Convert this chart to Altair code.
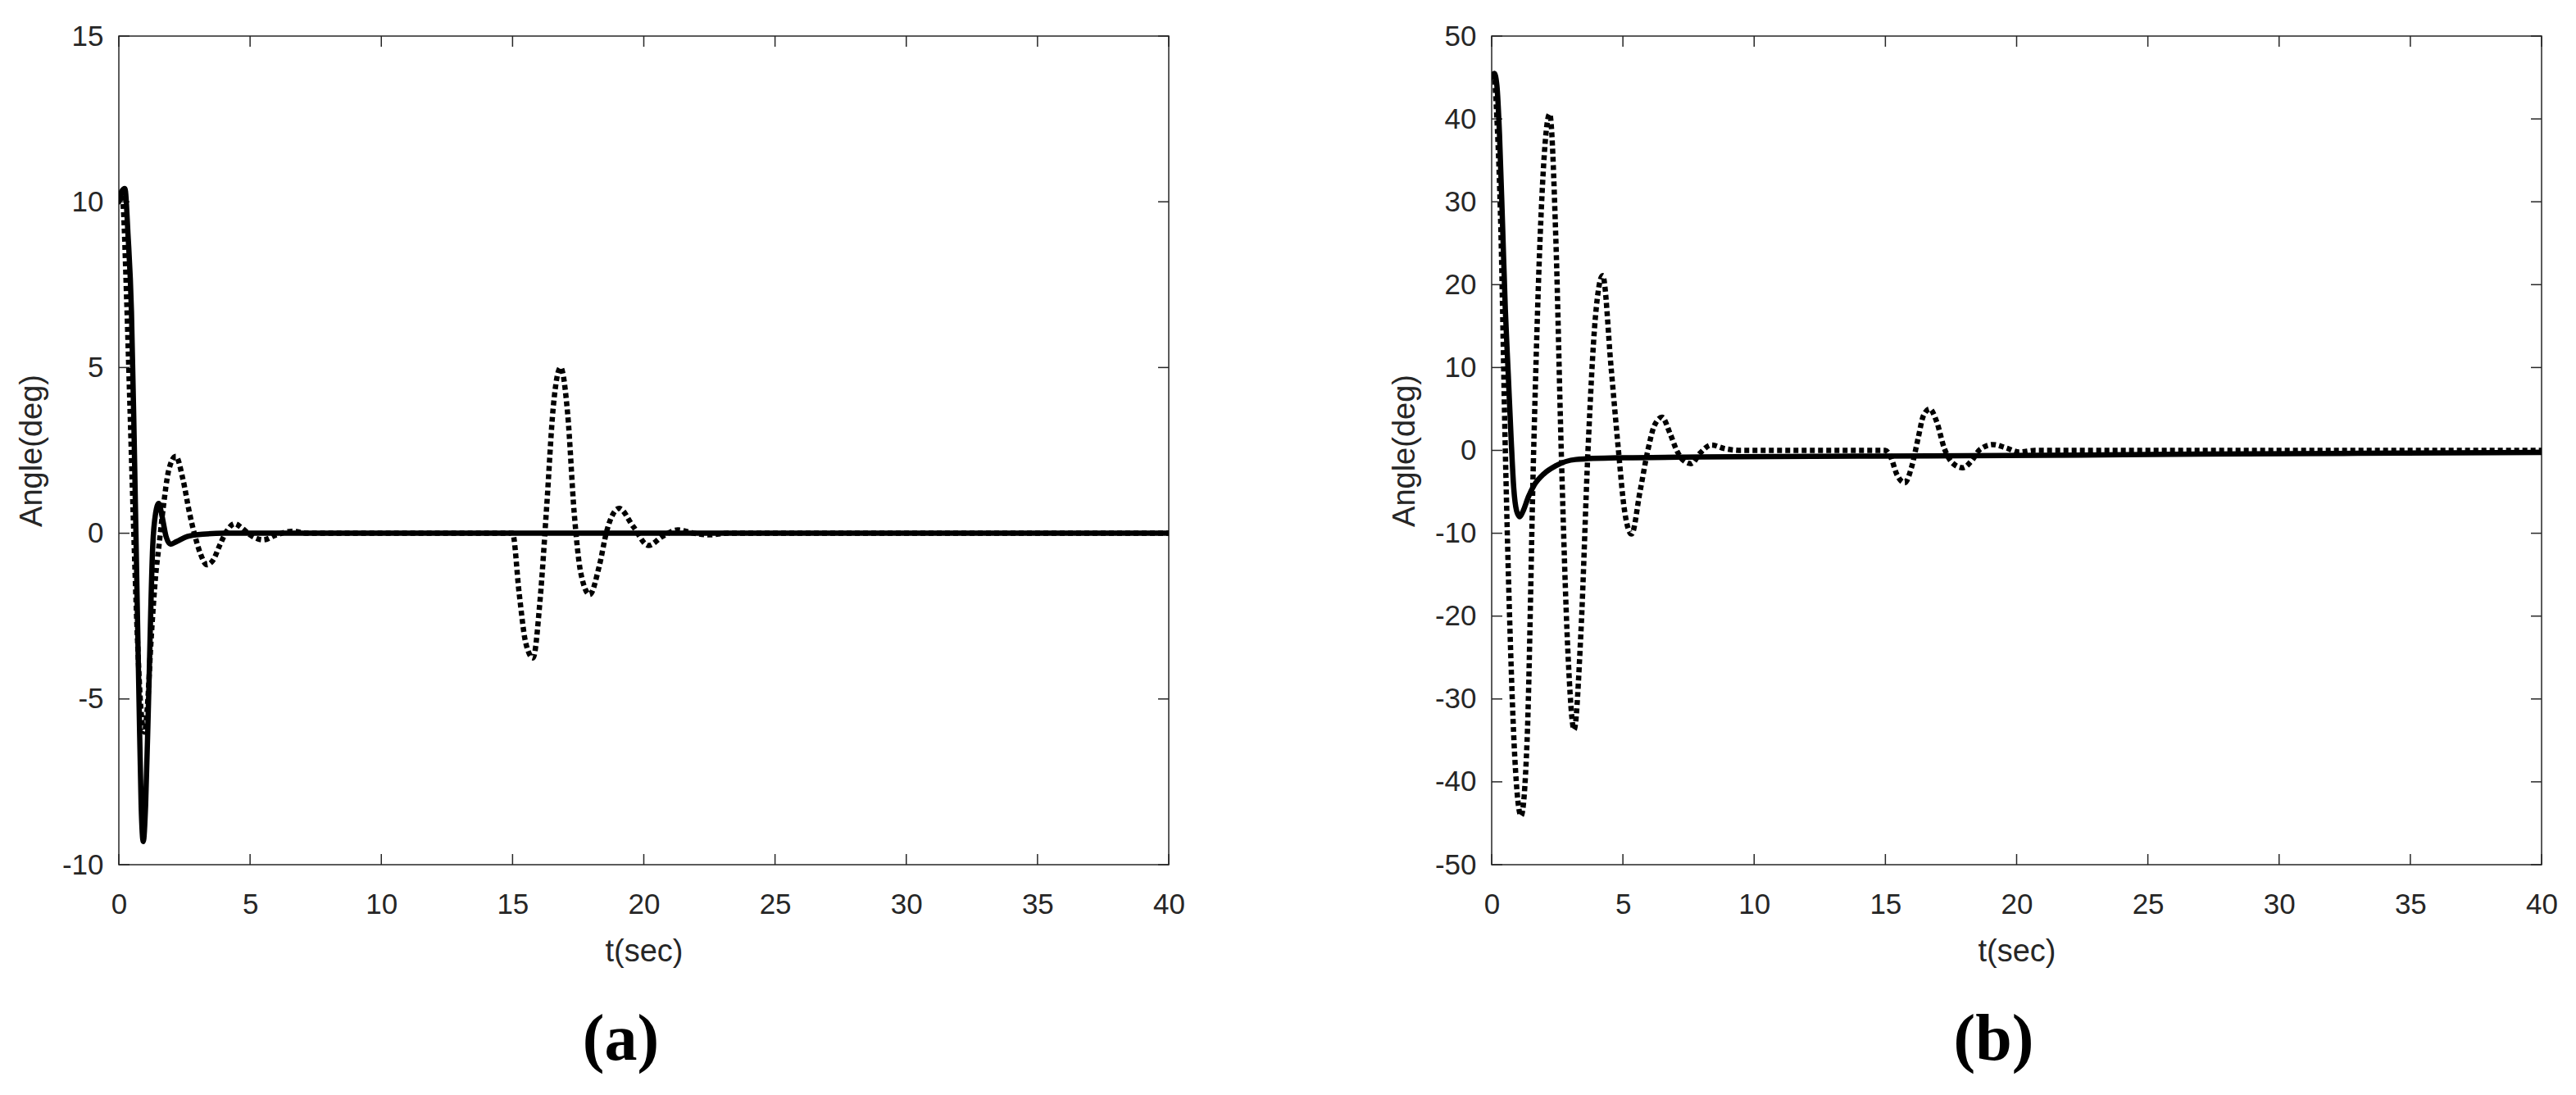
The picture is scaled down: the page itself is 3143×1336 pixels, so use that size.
import altair as alt
import pandas as pd

# ---------------- data ----------------
x_ticks = [0, 5, 10, 15, 20, 25, 30, 35, 40]
ya_ticks = [-10, -5, 0, 5, 10, 15]
yb_ticks = [-50, -40, -30, -20, -10, 0, 10, 20, 30, 40, 50]

# panel (a) solid
ta_s = [0, 0.1, 0.23, 0.35, 0.48, 0.58, 0.66, 0.77, 0.85, 0.93, 1.02, 1.13, 1.29, 1.40,
        1.52, 1.65, 1.80, 1.97, 2.2, 2.6, 3.2, 4.0, 10, 20, 30, 40]
va_s = [10.0, 10.3, 10.4, 9.0, 6.7, 3.0, -0.4, -5.1, -8.2, -9.3, -8.2, -5.1, -0.4, 0.6,
        0.9, 0.5, -0.1, -0.33, -0.25, -0.1, -0.03, 0, 0, 0, 0, 0]

# panel (a) dotted
ta_d = [0, 0.08, 0.15, 0.3, 0.42, 0.55, 0.7, 0.85, 0.97, 1.08,
        1.23, 1.4, 1.53, 1.69, 1.9, 2.17, 2.45, 2.69, 2.9, 3.1,
        3.35, 3.6, 3.85, 4.1, 4.41, 4.7, 5.0, 5.5, 6.0, 6.6,
        7.2, 8, 15.0, 15.25, 15.5, 15.78, 16.05, 16.3, 16.55, 16.83,
        17.1, 17.35, 17.6, 17.94, 18.3, 18.6, 19.06, 19.6, 20.18, 20.7,
        21.3, 21.9, 22.5, 23.2, 30, 40]
va_d = [10.0, 10.2, 10.0, 7.0, 3.9, 0.5, -3.0, -5.4, -6.0, -5.3,
        -3.2, -1.3, -0.37, 0.76, 1.9, 2.32, 1.6, 0.62, -0.08, -0.6,
        -0.95, -0.8, -0.35, 0.05, 0.29, 0.15, -0.05, -0.2, -0.05, 0.06,
        0.0, 0, 0, -1.8, -3.3, -3.76, -2.0, 0.8, 3.8, 5.0,
        3.6, 0.6, -1.2, -1.85, -1.0, 0.1, 0.75, 0.2, -0.37, -0.1,
        0.1, 0.0, -0.05, 0, 0, 0]

# panel (b) solid
tb_s = [0, 0.1, 0.2, 0.3, 0.42, 0.52, 0.63, 0.74, 0.84, 0.95,
        1.07, 1.2, 1.4, 1.62, 2.0, 2.42, 3.2, 4.8, 8, 14,
        21, 27, 33, 40]
vb_s = [45.0, 45.5, 44.0, 38.0, 26.7, 17.0, 9.3, 1.5, -4.5, -7.3,
        -8.0, -7.3, -5.6, -4.2, -2.8, -1.9, -1.1, -0.9, -0.8, -0.7,
        -0.6, -0.45, -0.35, -0.25]

# panel (b) dotted
tb_d = [0, 0.08, 0.2, 0.35, 0.52, 0.7, 0.88, 1.12, 1.35, 1.6,
        1.85, 2.21, 2.45, 2.65, 2.9, 3.14, 3.4, 3.67, 3.95, 4.23,
        4.55, 4.83, 5.05, 5.33, 5.65, 5.95, 6.2, 6.49, 6.8, 7.05,
        7.3, 7.6, 7.95, 8.37, 8.9, 9.5, 15.0, 15.2, 15.45, 15.74,
        16.0, 16.25, 16.45, 16.69, 16.95, 17.25, 17.55, 17.95, 18.3, 18.6,
        19.1, 19.6, 20.1, 20.7, 30, 40]
vb_d = [45.0, 45.3, 40.0, 26.7, 0.0, -21.9, -37.0, -44.1, -35.0, 0.0,
        26.0, 40.6, 25.0, 0.0, -24.0, -33.7, -22.0, 0.0, 16.0, 21.1,
        10.0, 0.0, -7.0, -10.1, -5.0, 0.0, 3.0, 4.0, 2.0, 0.0,
        -1.2, -1.6, -0.3, 0.65, 0.2, 0.0, 0.0, -0.8, -3.0, -3.9,
        -2.0, 1.5, 4.2, 5.0, 3.5, 0.2, -1.5, -2.1, -1.2, 0.1,
        0.7, 0.3, -0.2, 0.0, 0.0, 0.0]

# ---------------- styling ----------------
W, H = 1281, 1011
TICK = 13
INK = "#262626"
FONT = "Liberation Sans"


def panel(ts, vs, td, vd, yticks, ydom, caption):
    solid = pd.DataFrame({"t": ts, "angle": vs})
    dotted = pd.DataFrame({"t": td, "angle": vd})
    xt = pd.DataFrame({"t": x_ticks})
    yt = pd.DataFrame({"angle": yticks})

    xscale = alt.Scale(domain=[0, 40], nice=False, zero=False)
    yscale = alt.Scale(domain=ydom, nice=False, zero=False)
    common = dict(ticks=False, tickSize=0, domain=False, grid=False,
                  labelFont=FONT, labelFontSize=35, labelColor=INK,
                  labelExpr="datum.value + ''", labelOverlap=False,
                  titleFont=FONT, titleFontSize=38, titleFontWeight="normal",
                  titleColor=INK, titleAlign="center", titleBaseline="middle")
    xaxis = alt.Axis(values=x_ticks, title="t(sec)", labelPadding=31,
                     labelFlush=False, titleX=W / 2, titleY=106, **common)
    yaxis = alt.Axis(values=yticks, title="Angle(deg)", labelPadding=19,
                     titleAngle=270, titleX=-106, titleY=H / 2, **common)
    X = alt.X("t:Q", scale=xscale, axis=xaxis)
    Y = alt.Y("angle:Q", scale=yscale, axis=yaxis)

    rule = dict(color=INK, strokeWidth=1.5)
    bx = alt.Chart(xt).mark_rule(**rule).encode(x=X, y=alt.value(H), y2=alt.value(H - TICK))
    tx = alt.Chart(xt).mark_rule(**rule).encode(x=X, y=alt.value(0), y2=alt.value(TICK))
    ly = alt.Chart(yt).mark_rule(**rule).encode(y=Y, x=alt.value(0), x2=alt.value(TICK))
    ry = alt.Chart(yt).mark_rule(**rule).encode(y=Y, x=alt.value(W), x2=alt.value(W - TICK))

    l1 = alt.Chart(solid).mark_line(color="black", strokeWidth=6.5, interpolate="monotone",
                                    strokeJoin="round", strokeCap="round", clip=True).encode(x=X, y=Y)
    l2 = alt.Chart(dotted).mark_line(color="black", strokeWidth=6.5, strokeDash=[6, 4],
                                     interpolate="monotone", clip=True).encode(x=X, y=Y)

    return alt.layer(bx, tx, ly, ry, l1, l2).properties(
        width=W, height=H,
        title=alt.TitleParams(caption, orient="bottom", anchor="middle", frame="group",
                              dx=-28, offset=50, font="Liberation Serif", fontSize=80,
                              fontWeight="bold", color="black"))


pa = panel(ta_s, va_s, ta_d, va_d, ya_ticks, [-10, 15], "(a)")
pb = panel(tb_s, vb_s, tb_d, vb_d, yb_ticks, [-50, 50], "(b)")

chart = alt.hconcat(pa, pb, spacing=394, bounds="flush").properties(
    padding={"left": 11, "top": 18, "right": 5, "bottom": 5}
).configure(background="white").configure_view(stroke=INK, strokeWidth=1.5)

chart.save("out.html", embed_options={"renderer": "svg", "actions": False})
